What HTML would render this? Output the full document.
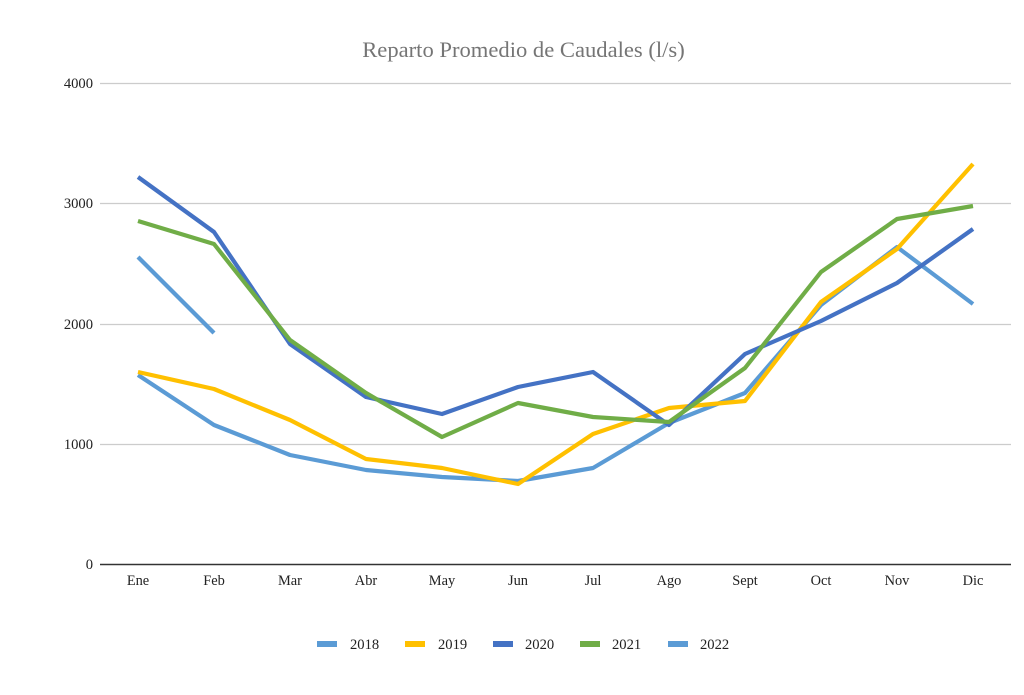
<!DOCTYPE html>
<html>
<head>
<meta charset="utf-8">
<style>
  html, body { margin: 0; padding: 0; background: #ffffff; }
  svg { display: block; }
  text { font-family: "Liberation Serif", "Times New Roman", serif; }
</style>
</head>
<body>
<svg width="1024" height="695" viewBox="0 0 1024 695" xmlns="http://www.w3.org/2000/svg">
  <rect x="0" y="0" width="1024" height="695" fill="#ffffff"/>

  <!-- Title -->
  <text x="523.5" y="57" text-anchor="middle" font-size="22.6" fill="#757575">Reparto Promedio de Caudales (l/s)</text>

  <!-- Gridlines -->
  <g stroke="#cccccc" stroke-width="1.2">
    <line x1="100" y1="83.5" x2="1011" y2="83.5"/>
    <line x1="100" y1="203.5" x2="1011" y2="203.5"/>
    <line x1="100" y1="324.5" x2="1011" y2="324.5"/>
    <line x1="100" y1="444.5" x2="1011" y2="444.5"/>
  </g>
  <line x1="100" y1="564.5" x2="1011" y2="564.5" stroke="#333333" stroke-width="1.4"/>

  <!-- Y labels -->
  <g font-size="14.6" fill="#222222" text-anchor="end">
    <text x="93" y="88">4000</text>
    <text x="93" y="208">3000</text>
    <text x="93" y="329">2000</text>
    <text x="93" y="449">1000</text>
    <text x="93" y="569">0</text>
  </g>

  <!-- X labels -->
  <g font-size="14.4" fill="#222222" text-anchor="middle">
    <text x="138" y="585">Ene</text>
    <text x="214" y="585">Feb</text>
    <text x="290" y="585">Mar</text>
    <text x="366" y="585">Abr</text>
    <text x="442" y="585">May</text>
    <text x="518" y="585">Jun</text>
    <text x="593" y="585">Jul</text>
    <text x="669" y="585">Ago</text>
    <text x="745" y="585">Sept</text>
    <text x="821" y="585">Oct</text>
    <text x="897" y="585">Nov</text>
    <text x="973" y="585">Dic</text>
  </g>

  <!-- Series -->
  <g fill="none" stroke-width="4.2" stroke-linejoin="round" stroke-linecap="butt">
    <!-- 2018 -->
    <polyline stroke="#5b9bd5" points="138,375 214,425 290,455 366,470 442,477 518,481 593,468 669,423 745,393 821,305 897,247 973,304"/>
    <!-- 2019 -->
    <polyline stroke="#ffc000" points="138,372 214,389 290,420 366,459 442,468 518,484 593,434 669,408 745,401 821,302 897,249 973,164"/>
    <!-- 2020 -->
    <polyline stroke="#4472c4" points="138,177 214,232 290,344 366,397 442,414 518,387 593,372 669,425 745,354 821,321 897,283 973,229"/>
    <!-- 2021 -->
    <polyline stroke="#70ad47" points="138,221 214,244 290,340 366,393 442,437 518,403 593,417 669,422 745,368 821,272 897,219 973,206"/>
    <!-- 2022 -->
    <polyline stroke="#5b9bd5" points="138,257 214,333"/>
  </g>

  <!-- Legend -->
  <g>
    <rect x="317" y="641" width="20" height="6" fill="#5b9bd5"/>
    <rect x="405" y="641" width="20" height="6" fill="#ffc000"/>
    <rect x="493" y="641" width="20" height="6" fill="#4472c4"/>
    <rect x="580" y="641" width="20" height="6" fill="#70ad47"/>
    <rect x="668" y="641" width="20" height="6" fill="#5b9bd5"/>
  </g>
  <g font-size="14.6" fill="#222222">
    <text x="350" y="649">2018</text>
    <text x="438" y="649">2019</text>
    <text x="525" y="649">2020</text>
    <text x="612" y="649">2021</text>
    <text x="700" y="649">2022</text>
  </g>
</svg>
</body>
</html>
